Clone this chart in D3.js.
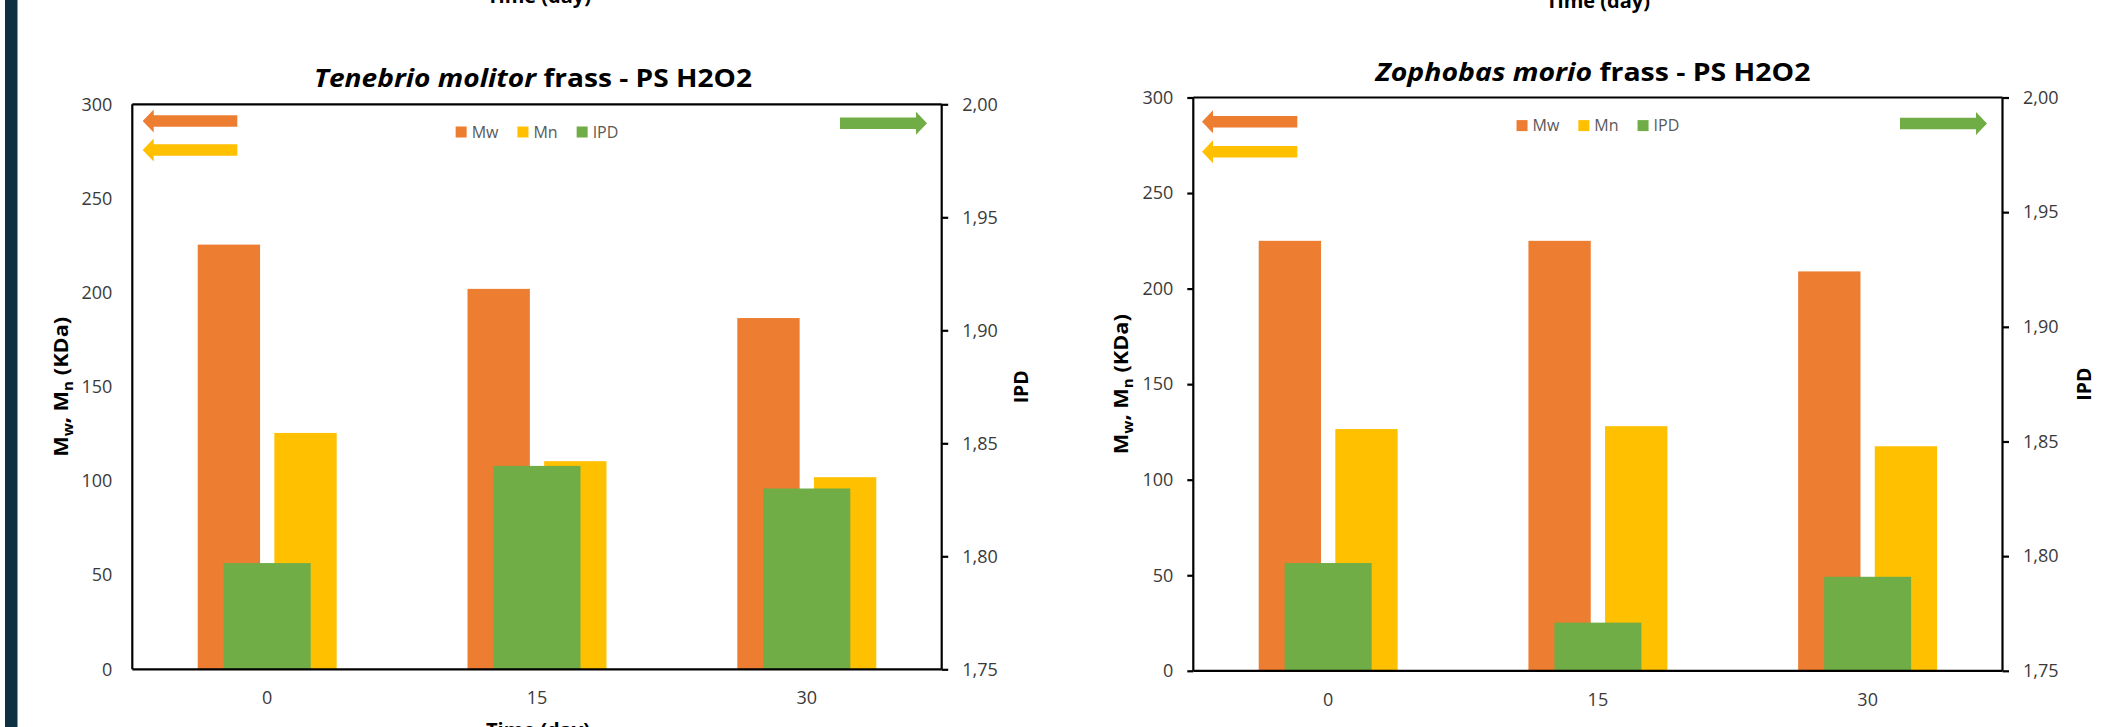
<!DOCTYPE html>
<html>
<head>
<meta charset="utf-8">
<script src="https://cdn.jsdelivr.net/npm/d3@7"></script>
<style>
  body { margin: 0; background: #fff; }
  svg { display: block; }
  text { font-family: "Open Sans", "Noto Sans", sans-serif; }
</style>
</head>
<body>
<svg id="chart" width="2118" height="727"></svg>
<script>
// ---- data ----
const categories = ["0", "15", "30"];
const seriesNames = ["Mw", "Mn", "IPD"];
const tenebrioMw = [225.5, 202, 186.5];
const tenebrioMn = [125.5, 110.5, 102];
const tenebrioIPD = [1.797, 1.840, 1.830];
const zophobasMw = [225, 225, 209];
const zophobasMn = [126.5, 128, 117.5];
const zophobasIPD = [1.797, 1.771, 1.791];
const massTicks = [0, 50, 100, 150, 200, 250, 300];
const ipdTicks = [1.75, 1.80, 1.85, 1.90, 1.95, 2.00];
const colors = { Mw: "#ED7D31", Mn: "#FFC000", IPD: "#70AD47" };

const svg = d3.select("#chart");
svg.append("rect").attr("width", 2118).attr("height", 727).attr("fill", "#fff");
// dark side band
svg.append("rect").attr("x", 5).attr("y", 0).attr("width", 12.5).attr("height", 727).attr("fill", "#0E3142");

const commaLocale = d3.formatLocale({ decimal: ",", thousands: ".", grouping: [3], currency: ["", ""] });
const fmtIPD = commaLocale.format(".2f");

// axis titles of the panels above / below
[[539, 3], [1598, 8], [538, 737]].forEach(([x, y]) => {
  svg.append("text").attr("x", x).attr("y", y).attr("text-anchor", "middle")
    .attr("font-size", 20).attr("font-weight", 700).attr("fill", "#000").text("Time (day)");
});

const panels = [
  {
    italic: "Tenebrio molitor", rest: " frass - PS H2O2",
    mw: tenebrioMw, mn: tenebrioMn, ipd: tenebrioIPD,
    x0: 132.3, x1: 941.7, y0: 104.3, y1: 669.3, leftTick: 0,
    titleX: 533, titleY: 86.5, titleW: 438, legendY: 132,
    arrowL: { tip: 10.4, tail: 105, y1: 16.7, y2: 45.7 },
    arrowR: { tail: 101.7, tip: 14.7, y: 19 },
    yTitleX: 61, ipdTitleX: 1021
  },
  {
    italic: "Zophobas morio", rest: " frass - PS H2O2",
    mw: zophobasMw, mn: zophobasMn, ipd: zophobasIPD,
    x0: 1193.3, x1: 2002.5, y0: 97.5, y1: 670.8, leftTick: 6,
    titleX: 1593, titleY: 81, titleW: 435, legendY: 125.6,
    arrowL: { tip: 8.7, tail: 104, y1: 24.2, y2: 54.2 },
    arrowR: { tail: 102.5, tip: 15.5, y: 26 },
    yTitleX: 1121, ipdTitleX: 2084
  }
];

// block arrow pointing left (dir=-1) or right (dir=1)
function blockArrow(g, tipX, tailX, cy, color) {
  const dir = tipX > tailX ? 1 : -1;
  const shaft = 5.8, head = 11.5, headLen = 11;
  const neck = tipX - dir * headLen;
  const pts = [
    [tailX, cy - shaft], [neck, cy - shaft], [neck, cy - head], [tipX, cy],
    [neck, cy + head], [neck, cy + shaft], [tailX, cy + shaft]
  ];
  g.append("polygon").attr("points", pts.map(p => p.join(",")).join(" ")).attr("fill", color);
}

panels.forEach(p => {
  const g = svg.append("g");
  const x = d3.scaleBand().domain(categories).range([p.x0, p.x1]).padding(0);
  const B = x.bandwidth();
  const xSub = d3.scaleBand().domain(["Mw", "Mn"]).range([0, B]).paddingInner(0.1866).paddingOuter(0.8535);
  const xIPD = d3.scaleBand().domain(["IPD"]).range([0, B]).paddingInner(0).paddingOuter(1.05);
  const yM = d3.scaleLinear().domain([0, 300]).range([p.y1, p.y0]);
  const yI = d3.scaleLinear().domain([1.75, 2.00]).range([p.y1, p.y0]);

  // primary-axis bars
  const rows = categories.map((c, i) => ({ c, Mw: p.mw[i], Mn: p.mn[i], IPD: p.ipd[i] }));
  ["Mw", "Mn"].forEach(s => {
    g.selectAll(null).data(rows).join("rect")
      .attr("x", d => x(d.c) + xSub(s))
      .attr("width", xSub.bandwidth())
      .attr("y", d => yM(d[s]))
      .attr("height", d => yM(0) - yM(d[s]))
      .attr("fill", colors[s]);
  });
  // secondary-axis bars
  g.selectAll(null).data(rows).join("rect")
    .attr("x", d => x(d.c) + xIPD("IPD"))
    .attr("width", xIPD.bandwidth())
    .attr("y", d => yI(d.IPD))
    .attr("height", d => yI(1.75) - yI(d.IPD))
    .attr("fill", colors.IPD);

  // frame
  const lineStyle = sel => sel.attr("stroke", "#000").attr("stroke-width", 2.2).attr("fill", "none");
  g.append("line").attr("x1", p.x0).attr("x2", p.x1).attr("y1", p.y0).attr("y2", p.y0).call(lineStyle);
  g.append("line").attr("x1", p.x0).attr("x2", p.x1).attr("y1", p.y1).attr("y2", p.y1).call(lineStyle);
  g.append("line").attr("x1", p.x0).attr("x2", p.x0).attr("y1", p.y0).attr("y2", p.y1).call(lineStyle);
  g.append("line").attr("x1", p.x1).attr("x2", p.x1).attr("y1", p.y0).attr("y2", p.y1).call(lineStyle);

  // axes
  const styleAxis = (sel) => {
    sel.select(".domain").remove();
    sel.selectAll(".tick line").attr("stroke", "#000").attr("stroke-width", 2.2);
    sel.selectAll(".tick text").attr("fill", "#3a3a3a").attr("font-size", 18)
      .attr("font-family", "\"Open Sans\", sans-serif");
  };
  g.append("g").attr("transform", `translate(${p.x0},0)`)
    .call(d3.axisLeft(yM).tickValues(massTicks).tickSize(p.leftTick).tickPadding(20 - p.leftTick))
    .call(styleAxis);
  g.append("g").attr("transform", `translate(${p.x1},0)`)
    .call(d3.axisRight(yI).tickValues(ipdTicks).tickFormat(fmtIPD).tickSize(6.5).tickPadding(14))
    .call(styleAxis);
  g.append("g").attr("transform", `translate(0,${p.y1})`)
    .call(d3.axisBottom(x).tickSize(0).tickPadding(22))
    .call(styleAxis);

  // title
  const t = g.append("text").attr("x", p.titleX).attr("y", p.titleY).attr("text-anchor", "middle")
    .attr("font-size", 25.5).attr("font-weight", 700).attr("fill", "#000");
  t.append("tspan").attr("font-style", "italic").text(p.italic);
  t.append("tspan").text(p.rest);
  t.attr("textLength", p.titleW).attr("lengthAdjust", "spacingAndGlyphs");

  // y titles
  const cy = (p.y0 + p.y1) / 2;
  const yt = g.append("text").attr("transform", `translate(${p.yTitleX + 7},${cy}) rotate(-90)`)
    .attr("text-anchor", "middle").attr("font-size", 20).attr("font-weight", 700).attr("fill", "#000");
  yt.append("tspan").text("M");
  yt.append("tspan").attr("dy", 5).attr("font-size", 14).text("w");
  yt.append("tspan").attr("dy", -5).text(", M");
  yt.append("tspan").attr("dy", 5).attr("font-size", 14).text("n");
  yt.append("tspan").attr("dy", -5).text(" (KDa)");
  yt.attr("textLength", 140).attr("lengthAdjust", "spacingAndGlyphs");

  g.append("text").attr("transform", `translate(${p.ipdTitleX + 7},${cy}) rotate(-90)`)
    .attr("text-anchor", "middle").attr("font-size", 19.5).attr("font-weight", 700).attr("fill", "#000")
    .text("IPD");

  // legend
  const lg = g.append("g");
  let lx = 0;
  seriesNames.forEach(s => {
    lg.append("rect").attr("x", lx).attr("y", -5.5).attr("width", 11).attr("height", 11).attr("fill", colors[s]);
    const tx = lg.append("text").attr("x", lx + 16).attr("y", 0).attr("dy", "0.35em")
      .attr("font-size", 16).attr("fill", "#595959").text(s);
    lx += 16 + tx.node().getComputedTextLength() + 19;
  });
  lx -= 19;
  lg.attr("transform", `translate(${(p.x0 + p.x1) / 2 - lx / 2},${p.legendY})`);

  // direction arrows
  blockArrow(g, p.x0 + p.arrowL.tip, p.x0 + p.arrowL.tail, p.y0 + p.arrowL.y1, colors.Mw);
  blockArrow(g, p.x0 + p.arrowL.tip, p.x0 + p.arrowL.tail, p.y0 + p.arrowL.y2, colors.Mn);
  blockArrow(g, p.x1 - p.arrowR.tip, p.x1 - p.arrowR.tail, p.y0 + p.arrowR.y, colors.IPD);
});
</script>
</body>
</html>
